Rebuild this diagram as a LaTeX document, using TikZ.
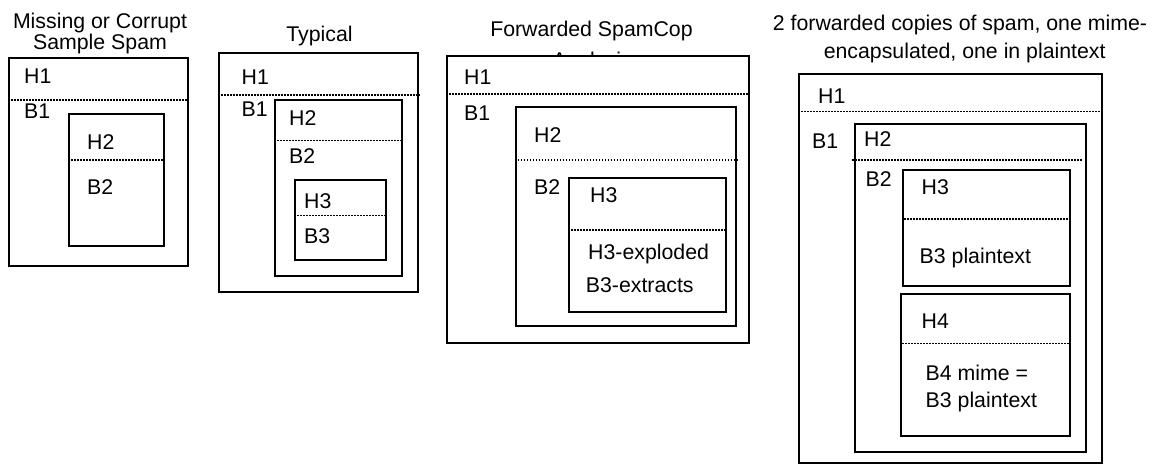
\documentclass[tikz,border=0pt]{standalone}
\usepackage{fontspec}
\setmainfont{Liberation Sans}
\usetikzlibrary{fit}
\begin{document}
\begin{tikzpicture}[x=1pt,y=-1pt,
  frame/.style={draw=black, line width=2.1pt, inner sep=0pt, rectangle},
  sep/.style={draw=black, line width=1.6pt, dash pattern=on 1.4pt off 1.6pt},
  lbl/.style={anchor=base west, inner sep=0pt, font=\fontsize{21.3}{25}\selectfont},
  ttl/.style={anchor=base, inner sep=0pt, font=\fontsize{21.3}{25}\selectfont}]
\useasboundingbox[fill=white] (0,0) rectangle (1168,465);

% ---------- Missing or Corrupt Sample Spam ----------
\node[ttl] (t1a) at (100,28.3) {Missing or Corrupt};
\node[ttl] (t1b) at (100,50) {Sample Spam};
\node[frame, fit={(9.3,57.7) (187.7,265.7)}] (m1) {};
\draw[sep] (m1.west |- 0,100) -- (m1.east |- 0,100);
\node[lbl] (m1h) at (24,84) {H1};
\node[lbl] (m1b) at (24,119) {B1};
\node[frame, fit={(69.3,114) (163.7,246)}] (m2) {};
\draw[sep] (m2.west |- 0,160) -- (m2.east |- 0,160);
\node[lbl] (m2h) at (87,150) {H2};
\node[lbl] (m2b) at (87,195) {B2};

% ---------- Typical ----------
\node[ttl] (t2) at (319.5,41.7) {Typical};
\node[frame, fit={(219.3,53.3) (418.3,292)}] (p1) {};
\draw[sep] (p1.west |- 0,95) -- (p1.east |- 0,95);
\node[lbl] (p1h) at (241.5,85) {H1};
\node[lbl] (p1b) at (241.5,116.7) {B1};
\node[frame, fit={(275.3,100) (401.7,276)}] (p2) {};
\draw[sep] (p2.west |- 0,140.7) -- (p2.east |- 0,140.7);
\node[lbl] (p2h) at (289,126) {H2};
\node[lbl] (p2b) at (289,164) {B2};
\node[frame, fit={(295.3,180) (385.7,260)}] (p3) {};
\draw[sep] (p3.west |- 0,215.7) -- (p3.east |- 0,215.7);
\node[lbl] (p3h) at (304,209) {H3};
\node[lbl] (p3b) at (304,244) {B3};

% ---------- Forwarded SpamCop Analysis ----------
\node[ttl] (t3a) at (591.5,36.7) {Forwarded SpamCop};
\node[ttl] (t3b) at (592,67.5) {Analysis};
\node[frame, fill=white, fit={(447.3,56) (749.3,342.7)}] (f1) {};
\draw[sep] (f1.west |- 0,94.3) -- (f1.east |- 0,94.3);
\node[lbl] (f1h) at (464,85) {H1};
\node[lbl] (f1b) at (464,120.7) {B1};
\node[frame, fit={(515.7,106.7) (735.7,326)}] (f2) {};
\draw[sep] (f2.west |- 0,160) -- (f2.east |- 0,160);
\node[lbl] (f2h) at (534,142.7) {H2};
\node[lbl] (f2b) at (534,194.3) {B2};
\node[frame, fit={(569.3,178.3) (725.7,311.7)}] (f3) {};
\draw[sep] ([xshift=3pt]f3.west |- 0,230) -- (f3.east |- 0,230);
\node[lbl] (f3h) at (590,202.7) {H3};
\node[lbl] (f3x) at (588,259.3) {H3-exploded};
\node[lbl] (f3e) at (585.7,292.7) {B3-extracts};

% ---------- 2 forwarded copies ----------
\node[ttl] (t4a) at (960,30.7) {2 forwarded copies of spam, one mime-};
\node[ttl] (t4b) at (964.7,58.3) {encapsulated, one in plaintext};
\node[frame, fit={(799.3,74) (1101.7,463)}] (c1) {};
\draw[sep] (c1.west |- 0,111.7) -- (c1.east |- 0,111.7);
\node[lbl] (c1h) at (818,103.3) {H1};
\node[lbl] (c1b) at (812,148.3) {B1};
\node[frame, fit={(855.3,124.3) (1086,452)}] (c2) {};
\draw[sep, shorten >=5pt] ([xshift=-2pt]c2.west |- 0,160) -- (c2.east |- 0,160);
\node[lbl] (c2h) at (864,146.7) {H2};
\node[lbl] (c2b) at (865.5,186.7) {B2};
\node[frame, fit={(903.3,170) (1070,286)}] (c3) {};
\draw[sep] ([xshift=2pt]c3.west |- 0,219) -- ([xshift=-2pt]c3.east |- 0,219);
\node[lbl] (c3h) at (921.5,195) {H3};
\node[lbl] (c3b) at (919.5,263.3) {B3 plaintext};
\node[frame, fit={(901.3,294) (1070,435.7)}] (c4) {};
\draw[sep] ([xshift=2pt]c4.west |- 0,343.3) -- (c4.east |- 0,343.3);
\node[lbl] (c4h) at (921.5,328.3) {H4};
\node[lbl] (c4a) at (925.5,380) {B4 mime =};
\node[lbl] (c4b) at (925.5,407.3) {B3 plaintext};
\end{tikzpicture}
\end{document}
